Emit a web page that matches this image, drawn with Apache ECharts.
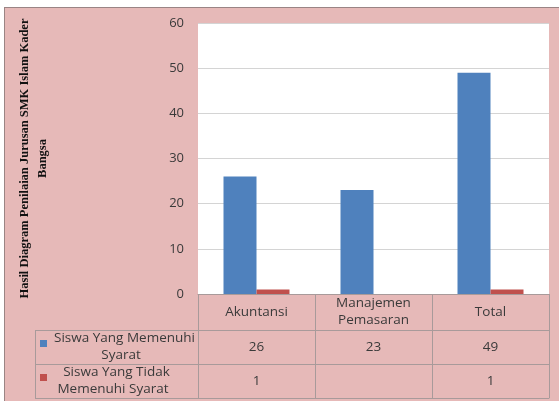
<!DOCTYPE html>
<html>
<head>
<meta charset="utf-8">
<script src="https://cdn.jsdelivr.net/npm/echarts@6/dist/echarts.min.js"></script>
<style>
    body { margin: 0; background: #fff; }
    #main {
        position: absolute;
        left: 4px;
        top: 7px;
        width: 554px;
        height: 393px;
        border-left: 1px solid #9a8484;
        border-top: 1px solid #9a8484;
    }
</style>
</head>
<body>
<div id="main"></div>
<script>
// 类目(表头)
var categories = ['Akuntansi', 'Manajemen Pemasaran', 'Total'];
// 系列名称
var seriesNames = ['Siswa Yang Memenuhi Syarat', 'Siswa Yang Tidak Memenuhi Syarat'];
// 数据
var memenuhi = [26, 23, 49];
var tidakMemenuhi = [1, null, 1];
// y轴刻度
var yTicks = [0, 10, 20, 30, 40, 50, 60];

var blue = '#4F81BD';
var red = '#C0504D';
var lineColor = '#A89A9A';
var textColor = '#3a3a3a';
var font = 'Open Sans';

var myChart = echarts.init(document.getElementById('main'));

//表格行的x轴(每一行一个x轴)
function tableAxis(offset, tickLen, values, showLabel) {
    return {
        type: 'category',
        data: categories,
        position: 'bottom',
        offset: offset,
        axisLine: { show: true, lineStyle: { color: lineColor, width: 1 } },
        axisTick: {
            show: tickLen > 0,
            length: tickLen,
            alignWithLabel: false,
            lineStyle: { color: lineColor, width: 1 }
        },
        axisLabel: {
            show: showLabel,
            interval: 0,
            margin: tickLen / 2,
            verticalAlign: 'middle',
            color: textColor,
            fontFamily: font,
            fontSize: 13.5,
            lineHeight: 17,
            formatter: function (v, i) {
                if (values == null) return v.replace(' ', '\n');
                return values[i] == null ? '' : String(values[i]);
            }
        },
        splitLine: { show: false }
    };
}

var option = {
    backgroundColor: '#E6B9B8',
    animation: false,
    grid: {
        left: 193,
        right: 10,
        top: 15,
        bottom: 107,
        containLabel: false,
        outerBoundsMode: 'none',
        show: true,
        backgroundColor: '#fff',
        borderWidth: 0
    },
    xAxis: [
        tableAxis(0, 36, null, true),
        tableAxis(36, 34, memenuhi, true),
        tableAxis(70, 34, tidakMemenuhi, true),
        tableAxis(104, 0, null, false)
    ],
    yAxis: {
        type: 'value',
        min: yTicks[0],
        max: yTicks[yTicks.length - 1],
        interval: 10,
        axisLine: { show: false },
        axisTick: { show: false },
        axisLabel: { color: textColor, fontFamily: font, fontSize: 13, margin: 14 },
        splitLine: { lineStyle: { color: '#D4D4D4', width: 1 } },
        name: 'Hasil Diagram Penilaian Jurusan SMK Islam Kader\nBangsa',
        nameLocation: 'middle',
        nameRotate: 90,
        nameGap: 146,
        nameTextStyle: {
            fontFamily: 'Liberation Serif',
            fontWeight: 'bold',
            fontSize: 12.5,
            lineHeight: 18,
            color: '#111'
        }
    },
    series: [
        {
            name: seriesNames[0],
            type: 'bar',
            data: memenuhi,
            barWidth: 33,
            barGap: '0%',
            itemStyle: { color: blue }
        },
        {
            name: seriesNames[1],
            type: 'bar',
            data: tidakMemenuhi,
            barWidth: 33,
            barGap: '0%',
            itemStyle: { color: red }
        }
    ],
    //表格左侧图例列
    graphic: [
        { type: 'line', shape: { x1: 30, y1: 322.5, x2: 193, y2: 322.5 }, style: { stroke: lineColor, lineWidth: 1 } },
        { type: 'line', shape: { x1: 30, y1: 356.5, x2: 193, y2: 356.5 }, style: { stroke: lineColor, lineWidth: 1 } },
        { type: 'line', shape: { x1: 30, y1: 390.5, x2: 193, y2: 390.5 }, style: { stroke: lineColor, lineWidth: 1 } },
        { type: 'line', shape: { x1: 30.5, y1: 322, x2: 30.5, y2: 391 }, style: { stroke: lineColor, lineWidth: 1 } },
        { type: 'rect', shape: { x: 35, y: 332, width: 7, height: 7 }, style: { fill: blue } },
        { type: 'rect', shape: { x: 35, y: 366, width: 7, height: 7 }, style: { fill: red } },
        {
            type: 'text', x: 116, y: 339,
            style: {
                text: '  Siswa Yang Memenuhi\nSyarat',
                align: 'center', verticalAlign: 'middle',
                fontFamily: font, fontSize: 13.5, lineHeight: 17, fill: textColor
            }
        },
        {
            type: 'text', x: 108, y: 373,
            style: {
                text: '  Siswa Yang Tidak\nMemenuhi Syarat',
                align: 'center', verticalAlign: 'middle',
                fontFamily: font, fontSize: 13.5, lineHeight: 17, fill: textColor
            }
        }
    ]
};

myChart.setOption(option);
</script>
</body>
</html>
